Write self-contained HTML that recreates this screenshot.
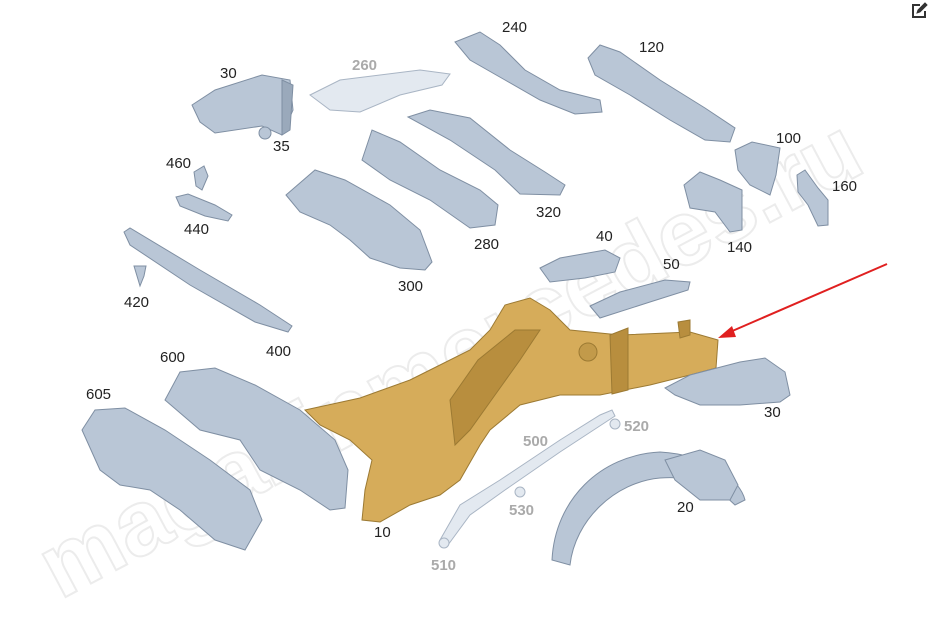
<!DOCTYPE html>
<html><head><meta charset="utf-8"><style>
html,body{margin:0;padding:0;background:#fff;}
svg{display:block;font-family:"Liberation Sans",sans-serif;}
.p{fill:#b9c6d6;stroke:#7f8fa3;stroke-width:1;}
.d{fill:#9aa9bb;stroke:#7f8fa3;stroke-width:1;}
.l{fill:#e3e9f0;stroke:#a9b5c4;stroke-width:1;}
.g{fill:#d6ac5a;stroke:#9c7a33;stroke-width:1;}
.gd{fill:#b88e3e;stroke:#9c7a33;stroke-width:1;}
text{font-size:15px;fill:#222;}
.gr{fill:#aaa;font-weight:bold;}
</style></head><body>
<svg width="928" height="628" viewBox="0 0 928 628">
<!-- watermark -->
<text x="60" y="600" transform="rotate(-28 60 600)" style="font-size:92px;fill:none;stroke:#ececec;stroke-width:2;font-weight:bold">magazinmercedes.ru</text>

<!-- 30 top-left -->
<polygon class="p" points="192,105 215,90 262,75 290,80 293,110 282,135 262,126 215,133 200,122"/>
<polygon class="d" points="282,80 293,85 290,130 282,135"/>
<circle class="p" cx="265" cy="133" r="6"/>
<!-- 260 -->
<polygon class="l" points="310,95 340,80 420,70 450,74 442,85 400,95 360,112 330,110"/>
<!-- 240 -->
<polygon class="p" points="455,42 480,32 500,45 525,70 560,90 600,100 602,112 575,114 540,100 505,80 470,60"/>
<!-- 120 -->
<polygon class="p" points="588,58 600,45 620,52 660,80 705,108 735,128 730,142 705,140 670,120 630,95 595,75"/>
<!-- 100 -->
<polygon class="p" points="735,150 752,142 780,148 776,175 770,195 750,185 738,170"/>
<!-- 160 -->
<polygon class="p" points="797,175 805,170 818,188 828,200 828,225 818,226 808,205 798,192"/>
<!-- 140 -->
<polygon class="p" points="684,185 700,172 720,180 742,190 742,230 730,232 715,212 690,208"/>
<!-- 320 -->
<polygon class="p" points="408,117 430,110 470,118 510,150 545,172 565,185 560,195 520,194 495,170 450,140"/>
<!-- 280 -->
<polygon class="p" points="362,160 372,130 400,142 440,170 480,190 498,205 495,225 470,228 430,200 390,180"/>
<!-- 300 -->
<polygon class="p" points="286,195 315,170 345,180 390,205 420,230 432,262 425,270 400,268 370,258 350,240 330,225 300,212"/>
<!-- 460,440,420,400 -->
<polygon class="p" points="194,172 204,166 208,176 202,190 196,186"/>
<polygon class="p" points="176,197 188,194 215,205 232,215 228,221 205,216 180,206"/>
<polygon class="p" points="124,232 130,228 200,270 260,305 292,326 288,332 255,322 190,285 130,245"/>
<polygon class="p" points="134,266 146,266 144,276 140,286 137,276"/>
<!-- 40 -->
<polygon class="p" points="540,268 560,258 605,250 620,258 615,272 585,278 550,282"/>
<!-- 50 -->
<polygon class="p" points="590,306 620,292 665,280 690,282 688,290 650,302 600,318"/>
<!-- 600 -->
<polygon class="p" points="165,400 180,372 215,368 255,385 300,410 335,440 348,470 345,508 330,510 300,490 260,470 240,440 200,430"/>
<!-- 605 -->
<polygon class="p" points="82,430 95,410 125,408 165,430 210,460 250,490 262,520 245,550 215,540 180,510 150,490 120,485 100,470"/>
<!-- 10 gold -->
<polygon class="g" points="305,410 360,398 410,380 430,370 470,350 490,330 505,305 530,298 550,310 570,330 620,335 690,332 718,340 716,368 690,375 650,385 600,395 560,395 520,405 490,430 480,445 460,480 440,495 410,505 380,522 362,520 365,490 372,460 350,440 320,425"/>
<polygon class="gd" points="610,335 628,328 628,390 612,394"/>
<polygon class="gd" points="450,400 478,360 515,330 540,330 520,360 495,395 470,430 455,445"/>
<polygon class="gd" points="678,322 690,320 690,335 680,338"/>
<circle cx="588" cy="352" r="9" fill="#c29a4a" stroke="#9c7a33"/>
<!-- 30 right -->
<polygon class="p" points="665,388 690,375 740,362 765,358 785,372 790,395 780,402 740,405 700,405 675,395"/>
<!-- 500 strut -->
<polygon class="l" points="440,540 460,505 500,480 560,440 600,415 612,410 615,416 560,452 505,490 470,515 448,545"/>
<circle class="l" cx="615" cy="424" r="5"/>
<circle class="l" cx="520" cy="492" r="5"/>
<circle class="l" cx="444" cy="543" r="5"/>
<!-- 20 wheel house -->
<path class="p" d="M552,560 C555,500 600,455 660,452 C710,455 740,480 745,500 L735,505 C720,490 700,475 660,478 C615,482 575,520 570,565 Z"/>
<polygon class="p" points="665,460 700,450 725,460 738,485 730,500 700,500 675,480"/>

<!-- labels -->
<text x="220" y="78">30</text>
<text x="352" y="70" class="gr">260</text>
<text x="502" y="32">240</text>
<text x="639" y="52">120</text>
<text x="273" y="151">35</text>
<text x="166" y="168">460</text>
<text x="776" y="143">100</text>
<text x="832" y="191">160</text>
<text x="184" y="234">440</text>
<text x="536" y="217">320</text>
<text x="474" y="249">280</text>
<text x="727" y="252">140</text>
<text x="596" y="241">40</text>
<text x="124" y="307">420</text>
<text x="398" y="291">300</text>
<text x="663" y="269">50</text>
<text x="266" y="356">400</text>
<text x="160" y="362">600</text>
<text x="86" y="399">605</text>
<text x="764" y="417">30</text>
<text x="523" y="446" class="gr">500</text>
<text x="624" y="431" class="gr">520</text>
<text x="509" y="515" class="gr">530</text>
<text x="374" y="537">10</text>
<text x="677" y="512">20</text>
<text x="431" y="570" class="gr">510</text>

<!-- red arrow -->
<line x1="887" y1="264" x2="730" y2="332" stroke="#e02020" stroke-width="2"/>
<polygon points="718,338 732,326 736,337" fill="#e02020"/>

<!-- edit icon -->
<g transform="translate(911,3)" fill="none" stroke="#333" stroke-width="2">
<path d="M9,2 H2 V14 H14 V8"/>
<path d="M6,10 L7,7 L14,0 L16,2 L9,9 Z" fill="#333" stroke-width="1"/>
</g>
</svg>
</body></html>
